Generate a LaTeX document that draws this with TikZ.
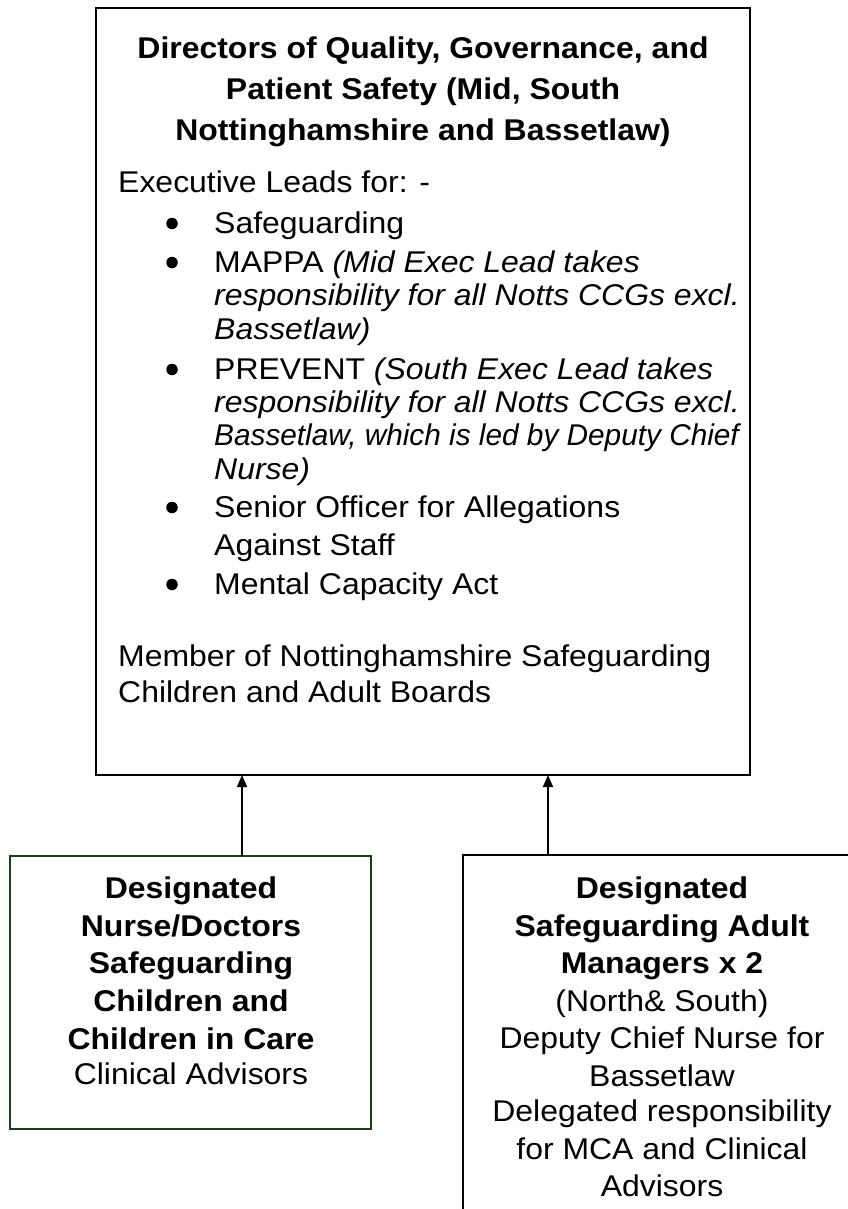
\documentclass[tikz,border=0pt]{standalone}
\usepackage{graphicx}
\usepackage{fontspec}
\setmainfont{Liberation Sans}[FakeStretch=1.065]
\usetikzlibrary{arrows.meta}
\definecolor{boxgreen}{HTML}{1E3D1E}
\tikzset{
  box/.style={draw=black, line width=2.6pt, inner sep=0pt},
  greenbox/.style={draw=boxgreen, line width=2.6pt, inner sep=0pt},
  ln/.style={anchor=base west, inner sep=0pt, font=\fontsize{30}{34}\selectfont},
  ttl/.style={anchor=base, inner sep=0pt, font=\fontsize{30}{34}\selectfont\bfseries},
  cl/.style={anchor=base, inner sep=0pt, font=\fontsize{30}{34}\selectfont},
  bul/.style={circle, fill=black, inner sep=0pt, minimum size=11.5pt},
  link/.style={line width=1.6pt, -{Triangle[length=12pt,width=10pt]}}
}
\begin{document}
\begin{tikzpicture}[x=1pt,y=-1pt]
\useasboundingbox (0,0) rectangle (847,1209);
% top box
\draw[box] (96,8) rectangle (750,775);
\coordinate (topL) at (242,775);
\coordinate (topR) at (548,775);
\node[ttl] (t1) at (423,59) {Directors of Quality, Governance, and};
\node[ttl] (t2) at (423,100) {Patient Safety (Mid, South};
\node[ttl] (t3) at (423,141) {Nottinghamshire and Bassetlaw)};
\node[ln] (e1) at (118,193) {Executive Leads for: -};
\foreach \y/\n in {233/b1,272/b2,379/b3,517/b4,594/b5}{\node[bul] (\n) at (172,\y-9.5) {};}
\node[ln] (s1) at (214,233) {Safeguarding};
\node[ln] (s2) at (214,272) {MAPPA \itshape(Mid Exec Lead takes};
\node[ln] (s3) at (214,305) {\itshape responsibility for all Notts CCGs excl.};
\node[ln] (s4) at (214,339) {\itshape Bassetlaw)};
\node[ln] (s5) at (214,379) {PREVENT \itshape(South Exec Lead takes};
\node[ln] (s6) at (214,412) {\itshape responsibility for all Notts CCGs excl.};
\node[ln] (s7) at (214,445) {\scalebox{0.932}[1]{\itshape Bassetlaw, which is led by Deputy Chief}};
\node[ln] (s8) at (214,479) {\itshape Nurse)};
\node[ln] (s9) at (214,517) {Senior Officer for Allegations};
\node[ln] (s10) at (214,555) {Against Staff};
\node[ln] (s11) at (214,594) {Mental Capacity Act};
\node[ln] (m1) at (118,666) {Member of Nottinghamshire Safeguarding};
\node[ln] (m2) at (118,702) {Children and Adult Boards};
% left box
\draw[greenbox] (10,856) rectangle (371,1129);
\coordinate (leftT) at (242,856);
\node[ttl] (l1) at (191,898) {Designated};
\node[ttl] (l2) at (191,936) {Nurse/Doctors};
\node[ttl] (l3) at (191,973) {Safeguarding};
\node[ttl] (l4) at (191,1011) {Children and};
\node[ttl] (l5) at (191,1049) {Children in Care};
\node[cl] (l6) at (191,1084) {Clinical Advisors};
% right box (extends beyond page)
\draw[box] (463,1215) -- (463,855) -- (852,855);
\coordinate (rightT) at (548,855);
\node[ttl] (r1) at (662,898) {Designated};
\node[ttl] (r2) at (662,936) {Safeguarding Adult};
\node[ttl] (r3) at (662,973) {Managers x 2};
\node[cl] (r4) at (662,1011) {(North\& South)};
\node[cl] (r5) at (662,1048) {Deputy Chief Nurse for};
\node[cl] (r6) at (662,1086) {Bassetlaw};
\node[cl] (r7) at (662,1121) {Delegated responsibility};
\node[cl] (r8) at (662,1159) {for MCA and Clinical};
\node[cl] (r9) at (662,1196) {Advisors};
% connectors
\draw[link] (leftT) -- (topL);
\draw[link] (rightT) -- (topR);
\end{tikzpicture}
\end{document}
